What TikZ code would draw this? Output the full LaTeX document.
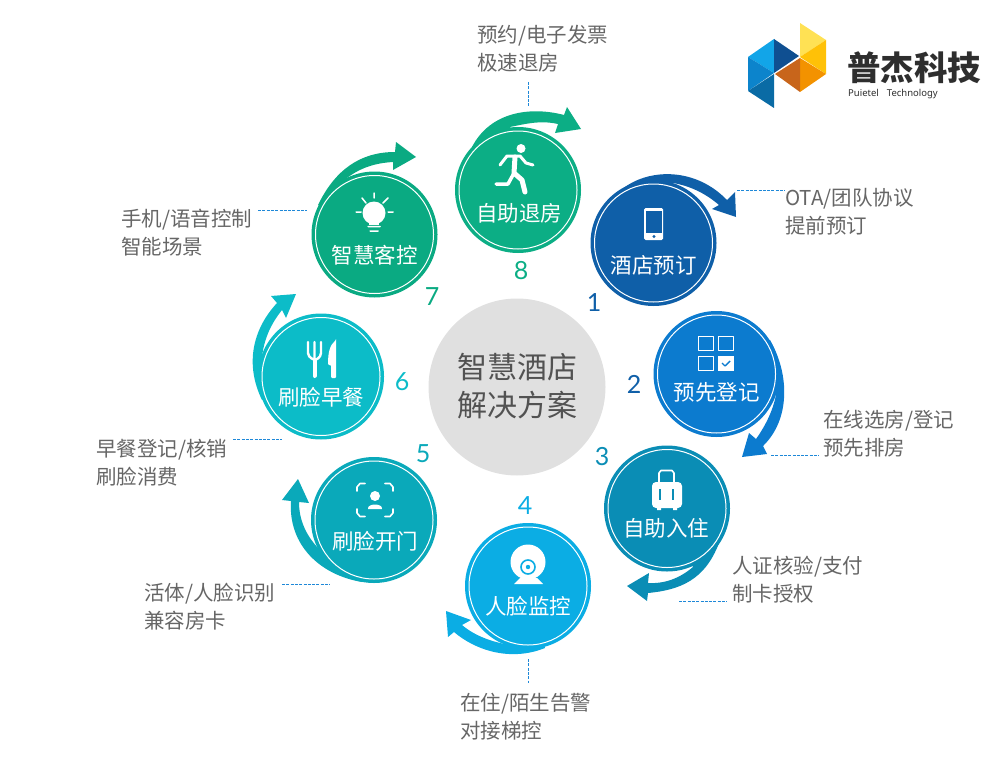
\documentclass[tikz,border=0pt]{standalone}
\usepackage{fontspec}
\setmainfont{Noto Sans CJK SC}
\newfontfamily\numfont{Lato}
\newfontfamily\logofont{Noto Sans}
\definecolor{cBook}{HTML}{0F5FA8}
\definecolor{cPre}{HTML}{0C7BCF}
\definecolor{cIn}{HTML}{0A8DB5}
\definecolor{cCam}{HTML}{0BADE4}
\definecolor{cDoor}{HTML}{0AA9BA}
\definecolor{cMeal}{HTML}{0CBCC8}
\definecolor{cRoom}{HTML}{0AAA82}
\definecolor{cOut}{HTML}{0CAE85}
\definecolor{cText}{HTML}{666666}
\definecolor{cLead}{HTML}{1E88D8}
\definecolor{lgA}{HTML}{12A5E8}
\definecolor{lgB}{HTML}{0F4F91}
\definecolor{lgC}{HTML}{0C84CC}
\definecolor{lgD}{HTML}{0A6BA5}
\definecolor{lgE}{HTML}{FFE154}
\definecolor{lgF}{HTML}{FFC107}
\definecolor{lgG}{HTML}{F39200}
\definecolor{lgH}{HTML}{C8651B}
\tikzset{
  disc/.style={circle,fill=#1,inner sep=0pt,minimum size=126pt},
  ring/.style={circle,draw=white,line width=1pt,inner sep=0pt,minimum size=118pt},
  captext/.style={text=white,font=\fontsize{21.5}{21.5}\selectfont},
  idx/.style={text=#1,font=\fontsize{25}{25}\numfont},
  side/.style={anchor=west,align=left,inner sep=0pt,text=cText,font=\fontsize{20.5}{28}\selectfont},
  leader/.style={draw=cLead,dash pattern=on 3pt off 1.3pt,line width=.8pt},
  icon/.style={draw=white,line width=#1,line cap=round,line join=round}
}
\begin{document}
\begin{tikzpicture}[x=1pt,y=-1pt,line join=round]
\useasboundingbox (0,0) rectangle (1000,765);

\node[circle,fill=black!12,inner sep=0pt,minimum size=177pt] (hub) at (517,387) {};
\node[text=black!68,align=center,font=\fontsize{30}{38}\selectfont] (hubtext) at (517,386) {智慧酒店\\解决方案};

\fill[cBook] (625,187) .. controls (650,169) and (695,167) .. (727,200) -- (735,192) -- (736,217) -- (712,209) -- (719,205) .. controls (705,193) and (690,186) .. (673,183) -- (653,243) -- cycle;
\fill[cPre] (770,340) .. controls (790,375) and (790,420) .. (763,446) -- (767,454) -- (742,457) -- (749,433) -- (756,439) .. controls (766,425) and (773,410) .. (776,395) -- (716,374) -- cycle;
\fill[cIn] (719,543) .. controls (705,580) and (680,590) .. (648,593) -- (647,601) -- (627,586) -- (649,573) -- (648,583) .. controls (665,584) and (680,578) .. (693,567) -- (667,508) -- cycle;
\fill[cCam] (545,648) .. controls (510,662) and (475,650) .. (454,632) -- (448,637) -- (446,611) -- (471,620) -- (462,625) .. controls (475,636) and (492,642) .. (510,645) -- (528,586) -- cycle;
\fill[cDoor] (362,582) .. controls (320,575) and (288,545) .. (291,501) -- (282,500) -- (298,479) -- (309,503) -- (299,502) .. controls (299,520) and (306,535) .. (318,548) -- (374,520) -- cycle;
\fill[cMeal] (262,400) .. controls (245,365) and (252,330) .. (277,303) -- (271,296) -- (296,294) -- (286,318) -- (282,310) .. controls (270,325) and (264,340) .. (262,357) -- (321,376) -- cycle;
\fill[cRoom] (318,205) .. controls (335,170) and (360,152) .. (395,152) -- (396,142) -- (416,157) -- (393,170) -- (393,162) .. controls (375,163) and (360,168) .. (347,178) -- (374,234) -- cycle;
\fill[cOut] (472,147) .. controls (490,112) and (530,106) .. (564,115) -- (567,107) -- (581,129) -- (555,133) -- (558,124) .. controls (540,120) and (525,124) .. (510,127) -- (518,190) -- cycle;

\node[disc=cBook] (book) at (653.5,243) {};
\node[ring] at (book) {};
\node[captext] (booktext) at (653.5,265) {酒店预订};
\node[disc=cPre] (pre) at (716.5,374) {};
\node[ring] at (pre) {};
\node[captext] (pretext) at (716.5,392) {预先登记};
\node[disc=cIn] (in) at (667,508.5) {};
\node[ring] at (in) {};
\node[captext] (intext) at (666,528) {自助入住};
\node[disc=cCam] (cam) at (528,586) {};
\node[ring] at (cam) {};
\node[captext] (camtext) at (528,606) {人脸监控};
\node[disc=cDoor] (door) at (374,520) {};
\node[ring] at (door) {};
\node[captext] (doortext) at (375,541) {刷脸开门};
\node[disc=cMeal] (meal) at (321,376.5) {};
\node[ring] at (meal) {};
\node[captext] (mealtext) at (321,397) {刷脸早餐};
\node[disc=cRoom] (room) at (374.5,234.5) {};
\node[ring] at (room) {};
\node[captext] (roomtext) at (374.5,255) {智慧客控};
\node[disc=cOut] (out) at (518,190) {};
\node[ring] at (out) {};
\node[captext] (outtext) at (519,213) {自助退房};

\fill[white,rounded corners=1.5pt] (644,208) rectangle (663,240);
\fill[cBook] (646,211) rectangle (661.5,233);
\fill[cBook] (654,236.5) circle (1.6pt);

\draw[icon=1.6pt] (698.5,336.5) rectangle (713.5,350.5) (718.5,336.5) rectangle (733.5,350.5) (698.5,356.5) rectangle (713.5,370.5);
\fill[white] (718,356) rectangle (734,371);
\draw[cPre,line width=1.4pt] (722,363) -- (725,366) -- (730,361);

\fill[white,rounded corners=4pt] (652,482) rectangle (682,508);
\fill[white] (657,508) rectangle (661,510) (673,508) rectangle (677,510);
\draw[icon=1.6pt] (659,482) -- (659,473) -- (661,470.5) -- (672,470.5) -- (674,473) -- (674,482);
\draw[cIn,line width=1.3pt] (660,489) -- (660,500) (673,489) -- (673,500);

\fill[white] (528,562) circle (17.5pt);
\fill[white] (520,578) -- (537,578) -- (543,584) -- (514,584) -- cycle;
\draw[cCam,line width=1.6pt] (528,567) circle (7pt);
\fill[cCam] (528,567) circle (2.2pt);

\draw[icon=1.6pt] (357,491) -- (357,487) -- (360,483.5) -- (365,483.5) (393,491) -- (393,487) -- (390,483.5) -- (385,483.5)
  (357,509) -- (357,513) -- (360,516.5) -- (365,516.5) (393,509) -- (393,513) -- (390,516.5) -- (385,516.5);
\fill[white] (375,496) circle (5pt);
\fill[white] (368,509) .. controls (367,503) and (383,503) .. (382,509) -- cycle;

\draw[icon=2.4pt] (308,342) -- (308,353) .. controls (308,358) and (315,360) .. (315,360) .. controls (315,360) and (321,358) .. (321,353) -- (321,342) (314.5,342) -- (314.5,377);
\draw[icon=3.5pt] (315,360) -- (315,376);
\fill[white,rounded corners=1pt] (336,340) -- (336,378) -- (331,378) -- (331,365) -- (328,365) .. controls (328,352) and (330,345) .. cycle;

\fill[white] (374,213) circle (11.5pt);
\fill[white] (369,220) rectangle (379,225);
\draw[icon=1.5pt] (374,193) -- (374,198) (362,198) -- (366,203) (388,198) -- (383,203) (356,212) -- (361,212) (388,212) -- (393,212)
  (368,226.5) -- (380,226.5) (370,231) -- (378,231);

\fill[white] (521,148.5) circle (4.5pt);
\draw[icon=3pt] (500,165) -- (507,156) -- (520,156) -- (526,163) -- (533,165);
\draw[icon=5pt] (515,157) -- (514,173) -- (522,180) -- (525,192);
\draw[icon=3.5pt] (514,173) -- (508,184) -- (496,184);

\node[idx=cBook] (n1) at (594,303) {1};
\node[idx=cBook] (n2) at (634,384) {2};
\node[idx=cIn] (n3) at (602,457) {3};
\node[idx=cCam] (n4) at (525,506) {4};
\node[idx=cDoor] (n5) at (423,454) {5};
\node[idx=cMeal] (n6) at (402,382) {6};
\node[idx=cRoom] (n7) at (432,297) {7};
\node[idx=cOut] (n8) at (521,271) {8};

\node[side] (outnote) at (477,49) {预约/电子发票\\极速退房};
\node[side] (booknote) at (785,212) {OTA/团队协议\\提前预订};
\node[side] (prenote) at (823,434) {在线选房/登记\\预先排房};
\node[side] (innote) at (732,579.5) {人证核验/支付\\制卡授权};
\node[side] (camnote) at (460,717) {在住/陌生告警\\对接梯控};
\node[side] (doornote) at (144,607) {活体/人脸识别\\兼容房卡};
\node[side] (mealnote) at (96,463) {早餐登记/核销\\刷脸消费};
\node[side] (roomnote) at (121,233) {手机/语音控制\\智能场景};

\coordinate (a1) at (528,82);
\coordinate (a2) at (528,107);
\coordinate (b1) at (737,190);
\coordinate (b2) at (785,190);
\coordinate (c1) at (771,455);
\coordinate (c2) at (819,455);
\coordinate (d1) at (679,601);
\coordinate (d2) at (727,601);
\coordinate (e1) at (528,659);
\coordinate (e2) at (528,683);
\coordinate (f1) at (282,584);
\coordinate (f2) at (330,584);
\coordinate (g1) at (233,439);
\coordinate (g2) at (282,439);
\coordinate (h1) at (258,210);
\coordinate (h2) at (307,210);
\draw[leader] (a1) -- (a2);
\draw[leader] (b1) -- (b2);
\draw[leader] (c1) -- (c2);
\draw[leader] (d1) -- (d2);
\draw[leader] (e1) -- (e2);
\draw[leader] (f1) -- (f2);
\draw[leader] (g1) -- (g2);
\draw[leader] (h1) -- (h2);

\fill[lgA] (748,57) -- (774,39) -- (774,73) -- cycle;
\fill[lgB] (774,39) -- (799,56) -- (774,73) -- cycle;
\fill[lgC] (748,57) -- (774,73) -- (748,91) -- cycle;
\fill[lgD] (774,74) -- (748,91) -- (774,108) -- cycle;
\fill[lgE] (800,23) -- (826,40) -- (800,57) -- cycle;
\fill[lgF] (826,40) -- (826,74) -- (800,57) -- cycle;
\fill[lgG] (800,58) -- (826,74) -- (800,92) -- cycle;
\fill[lgH] (800,58) -- (775,74) -- (800,92) -- cycle;
\node[anchor=west,inner sep=0pt,text=black!82,font=\fontsize{33.5}{33.5}\selectfont\bfseries] (logotext) at (847,68) {普杰科技};
\node[anchor=west,inner sep=0pt,text=black!82,font=\fontsize{9.5}{10}\logofont\bfseries] (logosub) at (848,94) {Puietel\hspace{8pt}Technology};
\end{tikzpicture}
\end{document}
